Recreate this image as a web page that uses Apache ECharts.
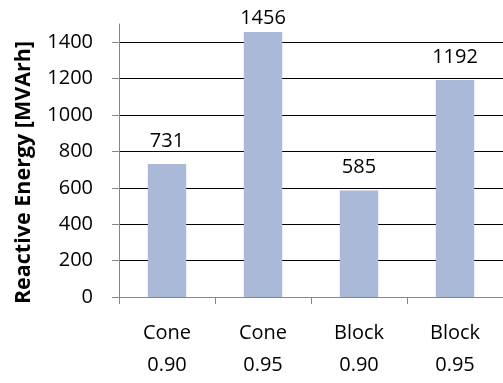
<!DOCTYPE html>
<html>
<head>
<meta charset="utf-8">
<script src="https://cdn.jsdelivr.net/npm/echarts@6/dist/echarts.min.js"></script>
<style>
  html, body { margin: 0; padding: 0; background: #fff; }
  #chart { width: 503px; height: 383px; }
</style>
</head>
<body>
<div id="chart"></div>
<script>
// Reactive energy per geometry / power-factor case
const categories = ['Cone\n0.90', 'Cone\n0.95', 'Block\n0.90', 'Block\n0.95'];
const energyValues = [731, 1456, 585, 1192];
const yTickValues = [0, 200, 400, 600, 800, 1000, 1200, 1400];

const FONT = '"Open Sans"';

const chart = echarts.init(document.getElementById('chart'), null, { renderer: 'canvas' });

chart.setOption({
  animation: false,
  backgroundColor: '#ffffff',
  grid: { left: 119, right: -2, top: 24, bottom: 86, containLabel: false },
  xAxis: {
    type: 'category',
    data: categories,
    boundaryGap: true,
    axisLine: { show: true, lineStyle: { color: '#868686', width: 1 } },
    axisTick: { show: true, alignWithLabel: false, length: 7, lineStyle: { color: '#868686' } },
    axisLabel: {
      color: '#000',
      fontFamily: FONT,
      fontSize: 20,
      lineHeight: 32,
      margin: 20,
      interval: 0
    },
    splitLine: { show: false }
  },
  yAxis: {
    type: 'value',
    min: 0,
    max: 1500,
    interval: 200,
    name: 'Reactive Energy [MVArh]',
    nameLocation: 'middle',
    nameGap: 84,
    nameTextStyle: {
      color: '#000',
      fontFamily: FONT,
      fontSize: 21.5,
      fontWeight: 'bold',
      padding: [0, 24, 0, 0]
    },
    axisLine: { show: true, lineStyle: { color: '#868686', width: 1 } },
    axisTick: { show: true, length: 7, lineStyle: { color: '#868686' }, customValues: yTickValues },
    axisLabel: {
      color: '#000',
      fontFamily: FONT,
      fontSize: 20,
      margin: 26,
      customValues: yTickValues,
      formatter: (v) => String(v)
    },
    splitLine: { show: true, lineStyle: { color: '#000', width: 1 } }
  },
  series: [{
    type: 'bar',
    data: energyValues.map((v, i) => ({
      value: v,
      // the tallest bar's label sits closer so it stays inside the canvas
      label: i === 1 ? { distance: 4 } : undefined
    })),
    barWidth: '40%',
    itemStyle: { color: '#A9B9D7' },
    label: {
      show: true,
      position: 'top',
      distance: 13,
      color: '#000',
      fontFamily: FONT,
      fontSize: 20
    }
  }]
});
</script>
</body>
</html>
